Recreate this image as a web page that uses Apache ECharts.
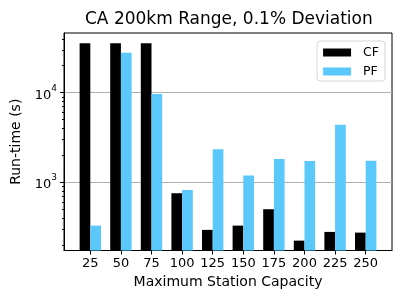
<!DOCTYPE html>
<html>
<head>
<meta charset="utf-8">
<script src="https://cdn.jsdelivr.net/npm/echarts@6/dist/echarts.min.js"></script>
<style>
html,body{margin:0;padding:0;background:#fff;}
#c{width:407px;height:305px;}
</style>
</head>
<body>
<div id="c"></div>
<script>
// Data
const capacities = ['25','50','75','100','125','150','175','200','225','250'];
const cfValues = [35600, 35600, 35600, 754, 294, 328, 500, 223, 279, 274];
const pfValues = [328, 27900, 9670, 820, 2335, 1191, 1820, 1730, 4400, 1743];
const seriesNames = ['CF', 'PF'];
const majorTicks = [1000, 10000];
const minorTicks = [200,300,400,500,600,700,800,900,2000,3000,4000,5000,6000,7000,8000,9000,20000,30000,40000];
const titleText = 'CA 200km Range, 0.1% Deviation';
const xName = 'Maximum Station Capacity';
const yName = 'Run-time (s)';

const FONT = 'DejaVu Sans';
const chart = echarts.init(document.getElementById('c'), null, {renderer: 'canvas'});
const idx = capacities.map((_, i) => i);
const yMin = 173, yMax = 46400;

chart.setOption({
  animation: false,
  backgroundColor: '#fff',
  textStyle: {fontFamily: FONT},
  title: {
    text: titleText,
    left: 85,
    top: 11,
    padding: 0,
    textStyle: {fontFamily: FONT, fontSize: 17, fontWeight: 'normal', color: '#000'}
  },
  legend: {
    data: seriesNames,
    orient: 'vertical',
    right: 22,
    top: 41,
    padding: [5, 6, 3, 6],
    itemWidth: 28,
    itemHeight: 8,
    itemGap: 6,
    borderColor: '#d6d6d6',
    borderWidth: 1,
    borderRadius: 3,
    backgroundColor: '#fff',
    icon: 'rect',
    textStyle: {fontFamily: FONT, fontSize: 12.5, color: '#000', padding: [0, 0, 0, 7]}
  },
  grid: {
    left: 64, right: 15, top: 33, bottom: 54.5,
    show: true, borderColor: '#000', borderWidth: 1, backgroundColor: 'transparent',
    containLabel: false
  },
  xAxis: {
    type: 'value',
    min: -0.86, max: 9.86,
    name: xName,
    nameLocation: 'middle',
    nameGap: 23,
    nameTextStyle: {fontFamily: FONT, fontSize: 14, color: '#000'},
    axisLine: {show: true, onZero: false, lineStyle: {color: '#000', width: 1}},
    axisTick: {show: true, customValues: idx, length: 4, lineStyle: {color: '#000'}},
    axisLabel: {
      customValues: idx, margin: 7,
      fontFamily: FONT, fontSize: 13, color: '#000',
      formatter: v => capacities[Math.round(v)]
    },
    splitLine: {show: false}
  },
  yAxis: [{
    type: 'log', logBase: 10,
    min: yMin, max: yMax,
    position: 'left',
    name: yName,
    nameLocation: 'middle',
    nameGap: 34,
    nameTextStyle: {fontFamily: FONT, fontSize: 14, color: '#000'},
    axisLine: {show: true, onZero: false, lineStyle: {color: '#000', width: 1}},
    axisTick: {show: true, customValues: majorTicks, length: 4, lineStyle: {color: '#000'}},
    axisLabel: {
      customValues: majorTicks, margin: 7,
      formatter: v => '{b|10}{s|' + Math.round(Math.log10(v)) + '}',
      rich: {
        b: {fontFamily: FONT, fontSize: 13, color: '#000', lineHeight: 18, verticalAlign: 'bottom'},
        s: {fontFamily: FONT, fontSize: 9, color: '#000', lineHeight: 18, verticalAlign: 'top'}
      }
    },
    splitLine: {show: true, lineStyle: {color: '#b0b0b0', width: 1}}
  }, {
    type: 'log', logBase: 10,
    min: yMin, max: yMax,
    position: 'left',
    offset: 0,
    axisLine: {show: false, onZero: false},
    axisTick: {show: true, customValues: minorTicks, length: 2, lineStyle: {color: '#000'}},
    axisLabel: {show: false},
    splitLine: {show: false}
  }],
  series: [{
    name: seriesNames[0], type: 'bar', yAxisIndex: 0,
    data: cfValues.map((v, i) => [i, v]),
    barWidth: 10.7, barGap: '0%',
    itemStyle: {color: '#000000'}
  }, {
    name: seriesNames[1], type: 'bar', yAxisIndex: 0,
    data: pfValues.map((v, i) => [i, v]),
    barWidth: 10.7, barGap: '0%',
    itemStyle: {color: '#5ac8fa'}
  }]
});
</script>
</body>
</html>
